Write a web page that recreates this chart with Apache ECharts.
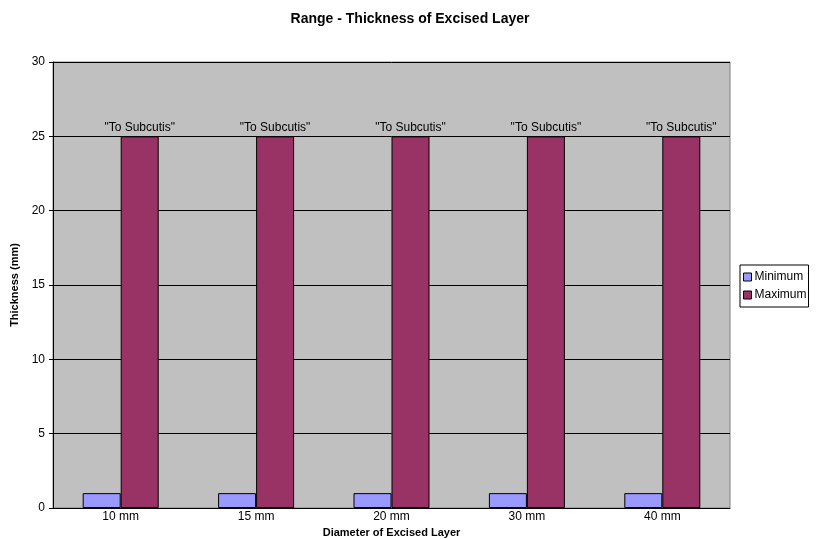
<!DOCTYPE html>
<html>
<head>
<meta charset="utf-8">
<script src="https://cdn.jsdelivr.net/npm/echarts@6/dist/echarts.min.js"></script>
<style>
  html, body { margin: 0; padding: 0; background: #fff; }
  #chart { width: 818px; height: 539px; }
</style>
</head>
<body>
<div id="chart"></div>
<script>
  const categories = ["10 mm", "15 mm", "20 mm", "30 mm", "40 mm"];
  const minimum = [1, 1, 1, 1, 1];
  const maximum = [25, 25, 25, 25, 25];
  const maxLabel = '"To Subcutis"';

  const font = "Liberation Sans, Arial, sans-serif";
  const chart = echarts.init(document.getElementById("chart"));

  chart.setOption({
    animation: false,
    backgroundColor: "#fff",
    title: {
      text: "Range - Thickness of Excised Layer",
      left: 405,
      textAlign: "center",
      top: 7,
      textStyle: { fontFamily: font, fontSize: 14, fontWeight: "bold", color: "#000" },
    },
    grid: {
      left: 53, right: 88, top: 62, bottom: 31,
      outerBoundsMode: "none",
      show: true, backgroundColor: "#C0C0C0", borderColor: "#808080", borderWidth: 1,
    },
    legend: {
      orient: "vertical",
      left: 740, top: 265,
      icon: "rect",
      itemWidth: 8, itemHeight: 8, itemGap: 6,
      padding: [6, 2, 6, 3],
      borderColor: "#000", borderWidth: 1,
      textStyle: { fontFamily: font, fontSize: 12, color: "#000", padding: [0, 0, 0, -2] },
      itemStyle: { borderColor: "#000", borderWidth: 1 },
      data: ["Minimum", "Maximum"],
    },
    xAxis: {
      type: "category",
      data: categories,
      name: "Diameter of Excised Layer",
      nameLocation: "middle",
      nameGap: 10,
      nameTextStyle: { fontFamily: font, fontSize: 11, fontWeight: "bold", color: "#000" },
      axisLine: { lineStyle: { color: "#000" } },
      axisTick: { show: false },
      axisLabel: { fontFamily: font, fontSize: 12, color: "#000", margin: 3 },
    },
    yAxis: {
      type: "value",
      min: 0, max: 30, interval: 5,
      name: "Thickness (mm)",
      nameLocation: "middle",
      nameGap: 30,
      nameTextStyle: { fontFamily: font, fontSize: 11, fontWeight: "bold", color: "#000" },
      axisLine: { show: true, lineStyle: { color: "#000" } },
      axisTick: { show: true, length: 4, lineStyle: { color: "#000" } },
      axisLabel: { fontFamily: font, fontSize: 12, color: "#000", margin: 8 },
      splitLine: { lineStyle: { color: "#000", width: 1 } },
    },
    series: [
      {
        name: "Minimum",
        type: "bar",
        data: minimum,
        barWidth: 38,
        barGap: "0%",
        itemStyle: { color: "#9999FF", borderColor: "#000", borderWidth: 1 },
      },
      {
        name: "Maximum",
        type: "bar",
        data: maximum,
        barWidth: 38,
        itemStyle: { color: "#993366", borderColor: "#000", borderWidth: 1 },
        label: {
          show: true,
          position: "top",
          distance: 3,
          formatter: () => maxLabel,
          fontFamily: font, fontSize: 12, color: "#000",
        },
      },
    ],
  });
</script>
</body>
</html>
